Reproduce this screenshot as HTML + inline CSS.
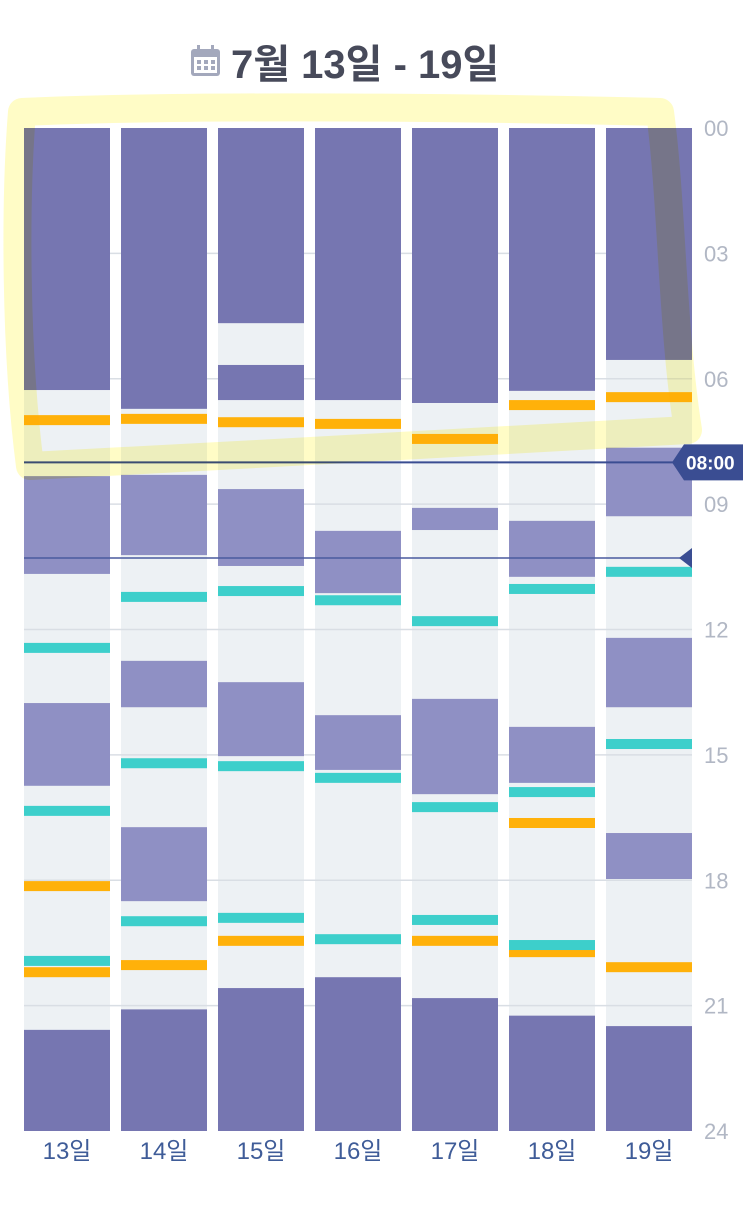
<!DOCTYPE html>
<html><head><meta charset="utf-8">
<style>
body{margin:0;background:#fff;width:743px;height:1218px;overflow:hidden;font-family:"Liberation Sans","Noto Sans CJK KR",sans-serif;}
svg{position:absolute;left:0;top:0}
</style></head>
<body>
<svg id="c" width="743" height="1218"></svg>
<script>
const days=["13일","14일","15일","16일","17일","18일","19일"];
const yTicks=["00","03","06","09","12","15","18","21","24"];
const darkBlocks=[[[0,6.27],[21.58,24]],[[0,6.72],[21.09,24]],[[0,4.67],[5.67,6.51],[20.58,24]],[[0,6.51],[20.32,24]],[[0,6.58],[20.82,24]],[[0,6.29],[21.24,24]],[[0,5.55],[21.49,24]]];
const midBlocks=[[[8.33,10.67],[13.76,15.74]],[[8.3,10.22],[12.75,13.86],[16.73,18.5]],[[8.64,10.48],[13.26,15.03]],[[9.64,11.13],[14.05,15.36]],[[9.09,9.62],[13.66,15.94]],[[9.4,10.74],[14.33,15.67]],[[7.65,9.29],[12.2,13.86],[16.87,17.97]]];
const orangeMarks=[[6.99,18.14,20.2],[6.96,20.03],[7.04,19.45],[7.08],[7.44,19.45],[6.63,16.63,19.72],[6.44,20.08]];
const tealMarks=[[12.44,16.34,19.93],[11.22,15.2,18.98],[11.08,15.27,18.9],[11.3,15.55,19.41],[11.8,16.25,18.95],[11.03,15.89,19.55],[10.62,14.74]];
const nowLine=8.0, secondLine=10.29;

const NS="http://www.w3.org/2000/svg";
const svg=document.getElementById('c');
const Y0=128,Y1=1131,X0=24,STEP=97,BW=86;
const y=h=>Y0+(Y1-Y0)*h/24;
const x=i=>X0+i*STEP;
function mk(t,a,p){const e=document.createElementNS(NS,t);for(const k in a)e.setAttribute(k,a[k]);(p||svg).appendChild(e);return e;}

const tg=mk('g',{});


const ic=mk('g',{},tg);


mk('rect',{x:191,y:49,width:29,height:27,rx:3,fill:'#a3a8bc'},ic);
mk('rect',{x:194,y:57,width:23,height:16,fill:'#fff'},ic);
for(let r=0;r<2;r++)for(let c=0;c<3;c++)mk('rect',{x:197+c*7,y:60+r*6,width:4,height:4,fill:'#a3a8bc'},ic);
mk('rect',{x:197,y:45,width:3,height:7,fill:'#a3a8bc'},ic);
mk('rect',{x:211,y:45,width:3,height:7,fill:'#a3a8bc'},ic);
const tt=mk('text',{x:231,y:78,'font-size':40,'font-weight':'bold',fill:'#474a5a'},tg);tt.textContent='7월 13일 - 19일';

days.forEach((d,i)=>{
 const r=mk('rect',{x:x(i),y:Y0,width:BW,height:Y1-Y0,fill:'#edf1f4'});
 
 
});
yTicks.forEach((t,k)=>{
 const h=k*3;
 if(k>0&&k<8){const l=mk('line',{x1:X0,x2:692,y1:y(h),y2:y(h),stroke:'#d9dee4','stroke-width':1.5});
 
 }
 const tx=mk('text',{x:704,y:y(h)+8,'font-size':22,fill:'#b1b7c4'});
 
 
 tx.textContent=t;
});
days.forEach((d,i)=>{
 darkBlocks[i].forEach(b=>{const r=mk('rect',{x:x(i),y:y(b[0]),width:BW,height:y(b[1])-y(b[0]),fill:'#7676b1'});
  
  });
 midBlocks[i].forEach(b=>{const r=mk('rect',{x:x(i),y:y(b[0]),width:BW,height:y(b[1])-y(b[0]),fill:'#8f90c4'});
  
  });
 orangeMarks[i].forEach(h=>{const r=mk('rect',{x:x(i),y:y(h)-5,width:BW,height:10,fill:'#ffb10a'});
  
  });
 tealMarks[i].forEach(h=>{const r=mk('rect',{x:x(i),y:y(h)-5,width:BW,height:10,fill:'#3dcfcb'});
  
  });
 const lb=mk('text',{x:x(i)+BW/2,y:1159,'font-size':24,fill:'#3f5c98','text-anchor':'middle'});
 
 
 lb.textContent=d;
});
const nl=mk('line',{x1:X0,x2:680,y1:y(nowLine),y2:y(nowLine),stroke:'#3a4d92','stroke-width':2});


const ny=y(nowLine);
const np=mk('path',{d:`M672 ${ny} L684 ${ny-18} L743 ${ny-18} L743 ${ny+18} L684 ${ny+18} Z`,fill:'#3a4d92'});


const nt=mk('text',{x:686,y:ny+7,'font-size':19,'font-weight':'bold',fill:'#fff'});nt.textContent='08:00';


const sy=y(secondLine);
const sl=mk('line',{x1:X0,x2:690,y1:sy,y2:sy,stroke:'#4a5a9e','stroke-width':1.5});


const st=mk('path',{d:`M679 ${sy} L692 ${sy-10} L692 ${sy+10} Z`,fill:'#3a4d92'});


const hl=mk('path',{d:'M22 112 C200 104 500 108 660 112 C672 200 672 330 688 430 C500 440 250 455 30 466 C15 350 15 200 22 112 Z',fill:'none',stroke:'rgba(255,248,120,0.42)','stroke-width':28,'stroke-linejoin':'round',style:'mix-blend-mode:multiply'});


</script>
</body></html>
